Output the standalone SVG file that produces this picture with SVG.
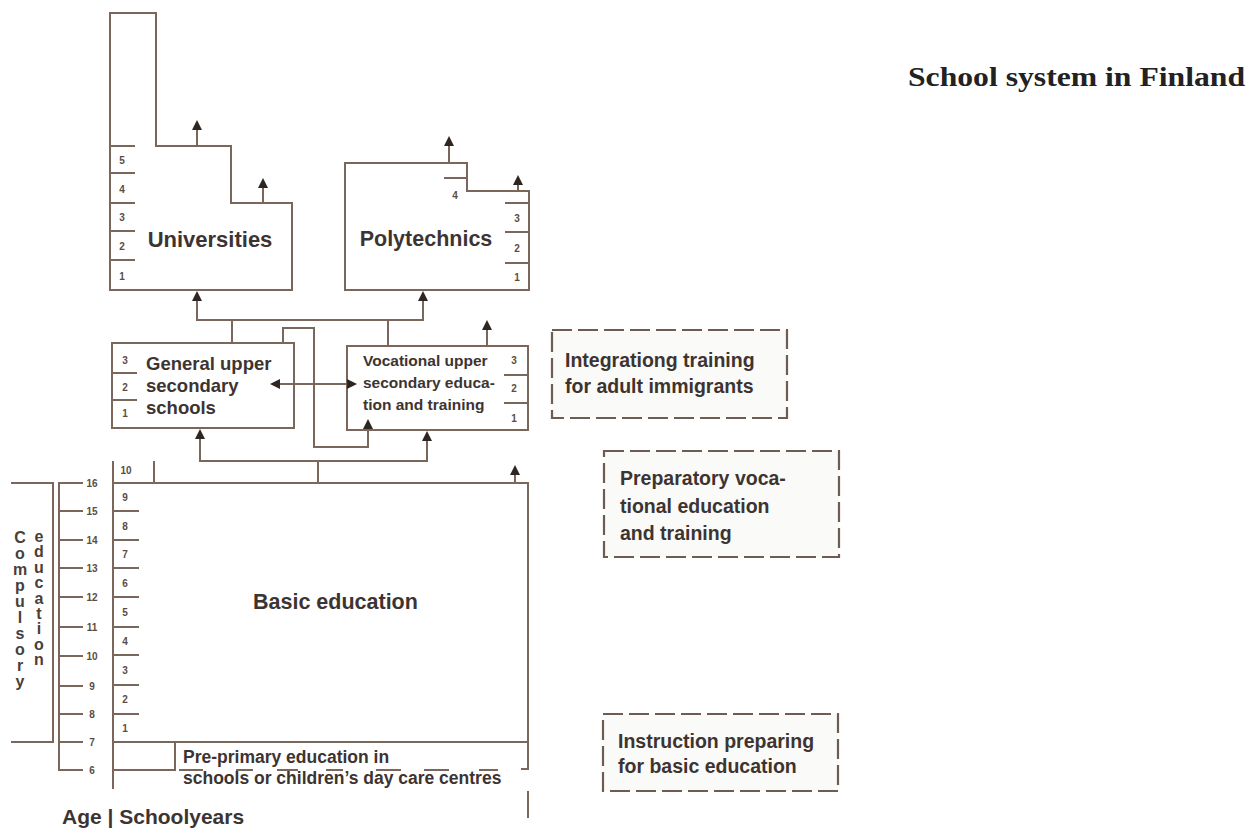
<svg xmlns="http://www.w3.org/2000/svg" width="1255" height="837" viewBox="0 0 1255 837">
<defs>
<style>
.ln{fill:none;stroke:#7a665a;stroke-width:2;stroke-linecap:square}
.dash{fill:#fafaf8;stroke:#6e5c52;stroke-width:2.2;stroke-dasharray:20 6}
.lbl{font-family:"Liberation Sans",Arial,sans-serif;font-weight:bold;fill:#3d3431}
.num{font-family:"Liberation Sans",Arial,sans-serif;font-size:10px;font-weight:bold;fill:#5b4c44;text-anchor:middle}
.vt{font-family:"Liberation Sans",Arial,sans-serif;font-size:16px;font-weight:bold;fill:#4a3e38;text-anchor:middle}
.arr{fill:none;stroke:#7a665a;stroke-width:2;marker-end:url(#ah)}
</style>
<marker id="ah" viewBox="0 0 10 10" refX="8" refY="5" markerWidth="10" markerHeight="10" markerUnits="userSpaceOnUse" orient="auto">
<path d="M0,0 L10,5 L0,10 z" fill="#2f2622"/>
</marker>
<marker id="ahs" viewBox="0 0 10 10" refX="2" refY="5" markerWidth="10" markerHeight="10" markerUnits="userSpaceOnUse" orient="auto-start-reverse">
<path d="M0,0 L10,5 L0,10 z" fill="#2f2622"/>
</marker>
</defs>
<rect width="1255" height="837" fill="#ffffff"/>

<g id="title">
<text x="908" y="86" font-family="Liberation Serif,'Times New Roman',serif" font-weight="bold" font-size="27" fill="#222222" textLength="337" lengthAdjust="spacingAndGlyphs">School system in Finland</text>
</g>

<g id="universities">
<path class="ln" d="M110,290 V13 H156 V146 H231 V203 H292 V290 Z"/>
<path class="ln" d="M110,146 H134 M110,173 H134 M110,203 H134 M110,231 H134 M110,260 H134"/>
<text class="num" x="122" y="164">5</text>
<text class="num" x="122" y="193">4</text>
<text class="num" x="122" y="221">3</text>
<text class="num" x="122" y="250">2</text>
<text class="num" x="122" y="280">1</text>
<text class="lbl" x="210" y="247" font-size="22" text-anchor="middle">Universities</text>
</g>

<g id="polytechnics">
<path class="ln" d="M345,290 V163 H467 V191 H529 V290 Z"/>
<path class="ln" d="M445,178 H467 M506,203 H529 M506,232 H529 M506,263 H529"/>
<text class="num" x="455" y="199">4</text>
<text class="num" x="517" y="222">3</text>
<text class="num" x="517" y="252">2</text>
<text class="num" x="517" y="281">1</text>
<text class="lbl" x="426" y="246" font-size="21.5" text-anchor="middle">Polytechnics</text>
</g>

<g id="general-upper-secondary">
<rect class="ln" x="112" y="343" width="182" height="85"/>
<path class="ln" d="M112,373 H136 M112,400 H136"/>
<text class="num" x="125" y="364">3</text>
<text class="num" x="125" y="391">2</text>
<text class="num" x="125" y="417">1</text>
<text class="lbl" font-size="18.5"><tspan x="146" y="370">General upper</tspan><tspan x="146" y="392">secondary</tspan><tspan x="146" y="414">schools</tspan></text>
</g>

<g id="vocational-upper-secondary">
<rect class="ln" x="347" y="346" width="181" height="84"/>
<path class="ln" d="M505,375 H528 M505,403 H528"/>
<text class="num" x="514" y="364">3</text>
<text class="num" x="514" y="392">2</text>
<text class="num" x="514" y="422">1</text>
<text class="lbl" font-size="15.5"><tspan x="363" y="366">Vocational upper</tspan><tspan x="363" y="388">secondary educa-</tspan><tspan x="363" y="410">tion and training</tspan></text>
</g>

<g id="integration-training">
<rect class="dash" x="552" y="330" width="235" height="88"/>
<text class="lbl" font-size="19.5"><tspan x="565" y="367">Integrationg training</tspan><tspan x="565" y="393">for adult immigrants</tspan></text>
</g>

<g id="preparatory-vocational">
<rect class="dash" x="604" y="451" width="235" height="106"/>
<text class="lbl" font-size="19.5"><tspan x="620" y="485">Preparatory voca-</tspan><tspan x="620" y="513">tional education</tspan><tspan x="620" y="540">and training</tspan></text>
</g>

<g id="instruction-preparing">
<rect class="dash" x="603" y="714" width="235" height="77"/>
<text class="lbl" font-size="19.5"><tspan x="618" y="748">Instruction preparing</tspan><tspan x="618" y="773">for basic education</tspan></text>
</g>

<g id="basic-education">
<path class="ln" d="M113,462 V788 M154,462 V483 M113,483 H528 V768 M522,769 H528 M528,792 V817 M113,742 H528"/>
<path class="ln" d="M113,511 H138 M113,540 H138 M113,568 H138 M113,597 H138 M113,627 H138 M113,655 H138 M113,685 H138 M113,714 H138"/>
<text class="num" x="126" y="474">10</text>
<text class="num" x="125" y="501">9</text>
<text class="num" x="125" y="530">8</text>
<text class="num" x="125" y="558">7</text>
<text class="num" x="125" y="587">6</text>
<text class="num" x="125" y="616">5</text>
<text class="num" x="125" y="645">4</text>
<text class="num" x="125" y="674">3</text>
<text class="num" x="125" y="703">2</text>
<text class="num" x="125" y="732">1</text>
<text class="lbl" x="253" y="609" font-size="21.5">Basic education</text>
</g>

<g id="pre-primary">
<path class="ln" d="M175,742 V770 M113,770 H175 M180,770 H202 M237,770 H252 M278,770 H297 M327,770 H342 M377,770 H400 M425,770 H448 M480,770 H497"/>
<text class="lbl" font-size="17.5"><tspan x="183" y="763">Pre-primary education in</tspan><tspan x="183" y="784">schools or children’s day care centres</tspan></text>
</g>

<g id="age-scale">
<path class="ln" d="M59,483 V770"/>
<path class="ln" d="M59,483 H82 M59,511 H82 M59,540 H82 M59,568 H82 M59,597 H82 M59,627 H82 M59,656 H82 M59,686 H82 M59,714 H82 M59,742 H82 M59,770 H82"/>
<text class="num" x="92" y="487">16</text>
<text class="num" x="92" y="515">15</text>
<text class="num" x="92" y="544">14</text>
<text class="num" x="92" y="572">13</text>
<text class="num" x="92" y="601">12</text>
<text class="num" x="92" y="631">11</text>
<text class="num" x="92" y="660">10</text>
<text class="num" x="92" y="690">9</text>
<text class="num" x="92" y="718">8</text>
<text class="num" x="92" y="746">7</text>
<text class="num" x="92" y="774">6</text>
<text class="lbl" x="62" y="824" font-size="21">Age | Schoolyears</text>
</g>

<g id="compulsory-education">
<path class="ln" d="M12,483 H53 V742 H12"/>
<text class="vt"><tspan x="20" y="543">C</tspan><tspan x="20" y="559">o</tspan><tspan x="20" y="575">m</tspan><tspan x="20" y="591">p</tspan><tspan x="20" y="607">u</tspan><tspan x="20" y="623">l</tspan><tspan x="20" y="639">s</tspan><tspan x="20" y="655">o</tspan><tspan x="20" y="671">r</tspan><tspan x="20" y="687">y</tspan></text>
<text class="vt"><tspan x="39" y="542">e</tspan><tspan x="39" y="557">d</tspan><tspan x="39" y="573">u</tspan><tspan x="39" y="588">c</tspan><tspan x="39" y="604">a</tspan><tspan x="39" y="619">t</tspan><tspan x="39" y="634">i</tspan><tspan x="39" y="650">o</tspan><tspan x="39" y="665">n</tspan></text>
</g>

<g id="connectors">
<path class="arr" d="M197,146 V122"/>
<path class="arr" d="M263,203 V180"/>
<path class="arr" d="M449,163 V138"/>
<path class="arr" d="M518,191 V177"/>
<path class="ln" d="M197,320 H423 M232,320 V343 M388,320 V346"/>
<path class="arr" d="M197,320 V293"/>
<path class="arr" d="M423,320 V293"/>
<path class="arr" d="M487,346 V322"/>
<path class="arr" d="M278,384 H355" marker-start="url(#ahs)"/>
<path class="arr" d="M283,343 V328 H314 V447 H368 V421"/>
<path class="ln" d="M200,461 H427 M318,461 V483"/>
<path class="arr" d="M200,461 V431"/>
<path class="arr" d="M427,461 V433"/>
<path class="arr" d="M515,483 V467"/>
</g>
</svg>
